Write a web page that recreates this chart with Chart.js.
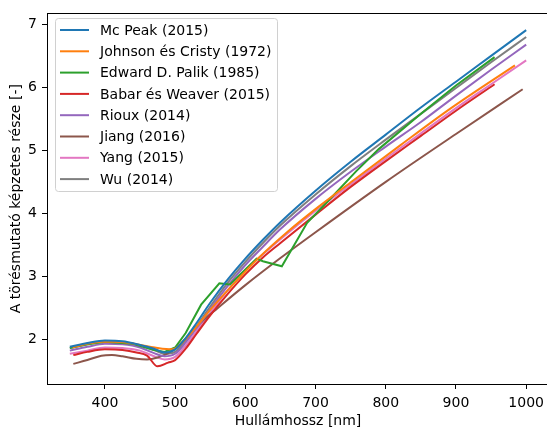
<!DOCTYPE html>
<html><head><meta charset="utf-8">
<script src="https://cdn.jsdelivr.net/npm/chart.js@4/dist/chart.umd.min.js"></script>
<style>html,body{margin:0;padding:0;background:#fff;overflow:hidden;width:547px;height:430px}canvas{display:block}</style>
</head><body><canvas id="c" width="550" height="430"></canvas>
<script>
// ---- data ----
const seriesLabels = ["Mc Peak (2015)", "Johnson és Cristy (1972)", "Edward D. Palik (1985)", "Babar és Weaver (2015)", "Rioux (2014)", "Jiang (2016)", "Yang (2015)", "Wu (2014)"];
const seriesColors = ["#1f77b4", "#ff7f0e", "#2ca02c", "#d62728", "#9467bd", "#8c564b", "#e377c2", "#7f7f7f"];

const mcPeakWl = [350, 375, 400, 425, 450, 470, 485, 500, 515, 530, 550, 575, 600, 625, 650, 700, 750, 800, 850, 900, 950, 1000];
const mcPeakK  = [1.88, 1.94, 1.98, 1.97, 1.91, 1.85, 1.79, 1.84, 2.02, 2.25, 2.58, 2.95, 3.28, 3.58, 3.86, 4.36, 4.82, 5.25, 5.68, 6.09, 6.50, 6.91];

const johnsonWl = [354, 367, 381, 397, 413, 430, 451, 471, 496, 521, 549, 582, 617, 659, 704, 756, 821, 892, 984];
const johnsonK  = [1.87, 1.91, 1.94, 1.96, 1.96, 1.95, 1.91, 1.87, 1.84, 2.08, 2.455, 2.863, 3.272, 3.697, 4.103, 4.542, 5.083, 5.663, 6.35];

const palikWl = [350, 375, 400, 440, 470, 485, 500, 515, 537, 563, 578, 616, 625, 652, 688, 720, 758, 790, 850, 900, 955];
const palikK  = [1.86, 1.92, 1.96, 1.93, 1.83, 1.80, 1.87, 2.10, 2.55, 2.89, 2.87, 3.28, 3.24, 3.16, 3.85, 4.22, 4.67, 5.02, 5.58, 6.03, 6.48];

const babarWl = [355, 375, 400, 425, 445, 460, 475, 490, 500, 515, 530, 550, 575, 600, 625, 650, 700, 750, 800, 850, 900, 955];
const babarK  = [1.75, 1.80, 1.84, 1.83, 1.79, 1.74, 1.57, 1.63, 1.67, 1.85, 2.08, 2.38, 2.72, 3.03, 3.30, 3.53, 3.98, 4.42, 4.83, 5.23, 5.63, 6.05];

const riouxWl = [350, 375, 400, 425, 450, 470, 485, 500, 515, 530, 550, 575, 600, 625, 650, 700, 750, 800, 850, 900, 950, 1000];
const riouxK  = [1.82, 1.88, 1.93, 1.92, 1.87, 1.78, 1.73, 1.77, 1.95, 2.17, 2.48, 2.85, 3.18, 3.47, 3.75, 4.23, 4.66, 5.06, 5.45, 5.87, 6.28, 6.68];

const jiangWl = [355, 375, 395, 410, 425, 445, 460, 475, 490, 505, 520, 540, 560, 600, 650, 700, 800, 900, 995];
const jiangK  = [1.61, 1.67, 1.74, 1.75, 1.73, 1.69, 1.68, 1.71, 1.78, 1.90, 2.07, 2.30, 2.49, 2.86, 3.29, 3.70, 4.50, 5.26, 5.97];

const yangWl = [350, 375, 400, 425, 450, 470, 485, 500, 515, 530, 550, 575, 600, 625, 650, 700, 750, 800, 850, 900, 950, 1000];
const yangK  = [1.77, 1.82, 1.87, 1.86, 1.82, 1.73, 1.68, 1.72, 1.90, 2.12, 2.42, 2.78, 3.10, 3.35, 3.59, 4.04, 4.46, 4.87, 5.27, 5.67, 6.05, 6.43];

const wuWl = [350, 375, 400, 425, 450, 470, 485, 500, 515, 530, 550, 575, 600, 625, 650, 700, 750, 800, 850, 900, 950, 1000];
const wuK  = [1.86, 1.92, 1.96, 1.95, 1.90, 1.83, 1.77, 1.80, 1.98, 2.20, 2.52, 2.90, 3.23, 3.53, 3.81, 4.30, 4.75, 5.17, 5.58, 5.99, 6.40, 6.80];

const xTicks = [400, 500, 600, 700, 800, 900, 1000];
const yTicks = [2, 3, 4, 5, 6, 7];
const xTitle = "Hullámhossz [nm]";
const yTitle = "A törésmutató képzetes része [-]";

// ---- build ----
const seriesWl = [mcPeakWl, johnsonWl, palikWl, babarWl, riouxWl, jiangWl, yangWl, wuWl];
const seriesK = [mcPeakK, johnsonK, palikK, babarK, riouxK, jiangK, yangK, wuK];
const FONT = "DejaVu Sans";
const FS = 14;

const datasets = seriesLabels.map((lab, i) => ({
  label: lab,
  data: seriesWl[i].map((x, j) => ({x: x, y: seriesK[i][j]})),
  borderColor: seriesColors[i],
  backgroundColor: seriesColors[i],
  borderWidth: 2,
  pointRadius: 0,
  fill: false,
  cubicInterpolationMode: i === 2 ? 'default' : 'monotone',
  tension: 0
}));

const framePlugin = {
  id: 'frame',
  afterDraw(chart) {
    const ctx = chart.ctx, a = chart.chartArea;
    ctx.save();
    ctx.strokeStyle = '#000';
    ctx.lineWidth = 1;
    ctx.strokeRect(Math.round(a.left) + 0.5, Math.round(a.top) + 0.5, Math.round(a.right - a.left), Math.round(a.bottom - a.top));
    // legend
    const bx = 55.5, by = 18.5, bw = 222, bh = 173, r = 3;
    ctx.beginPath();
    ctx.moveTo(bx + r, by);
    ctx.arcTo(bx + bw, by, bx + bw, by + bh, r);
    ctx.arcTo(bx + bw, by + bh, bx, by + bh, r);
    ctx.arcTo(bx, by + bh, bx, by, r);
    ctx.arcTo(bx, by, bx + bw, by, r);
    ctx.closePath();
    ctx.fillStyle = 'rgba(255,255,255,0.8)';
    ctx.fill();
    ctx.strokeStyle = '#d0d0d0';
    ctx.stroke();
    ctx.font = FS + 'px "' + FONT + '"';
    ctx.textBaseline = 'middle';
    ctx.textAlign = 'left';
    chart.data.datasets.forEach((ds, i) => {
      const y = 30 + i * 21.3;
      ctx.strokeStyle = ds.borderColor;
      ctx.lineWidth = 2;
      ctx.beginPath();
      ctx.moveTo(60, y);
      ctx.lineTo(89, y);
      ctx.stroke();
      ctx.fillStyle = '#000';
      ctx.fillText(ds.label, 100, y + 1);
    });
    ctx.restore();
  }
};

new Chart(document.getElementById('c'), {
  type: 'line',
  data: { datasets: datasets },
  options: {
    responsive: false,
    devicePixelRatio: 1,
    animation: false,
    layout: { padding: { top: 10, right: 0, left: 0, bottom: 0 } },
    plugins: { legend: { display: false }, tooltip: { enabled: false } },
    scales: {
      x: {
        type: 'linear',
        min: 317.5, max: 1032.5,
        afterFit(s) { s.height = 46; },
        afterBuildTicks(s) { s.ticks = xTicks.map(v => ({value: v})); },
        grid: { display: true, drawOnChartArea: false, drawTicks: true, tickLength: 5, color: '#000', lineWidth: 1 },
        border: { display: false },
        ticks: { color: '#000', font: { family: FONT, size: FS }, padding: 6, maxRotation: 0, autoSkip: false, callback: v => String(v) },
        title: { display: true, text: xTitle, color: '#000', font: { family: FONT, size: FS }, padding: { top: 0, bottom: 0 } }
      },
      y: {
        type: 'linear',
        min: 1.29, max: 7.175,
        afterFit(s) { s.width = 47; },
        afterBuildTicks(s) { s.ticks = yTicks.map(v => ({value: v})); },
        grid: { display: true, drawOnChartArea: false, drawTicks: true, tickLength: 5, color: '#000', lineWidth: 1 },
        border: { display: false },
        ticks: { color: '#000', font: { family: FONT, size: FS }, padding: 5, autoSkip: false, callback: v => String(v) },
        title: { display: true, text: yTitle, color: '#000', font: { family: FONT, size: FS }, padding: { top: 8, bottom: 0 } }
      }
    }
  },
  plugins: [framePlugin]
});
</script>
</body></html>
